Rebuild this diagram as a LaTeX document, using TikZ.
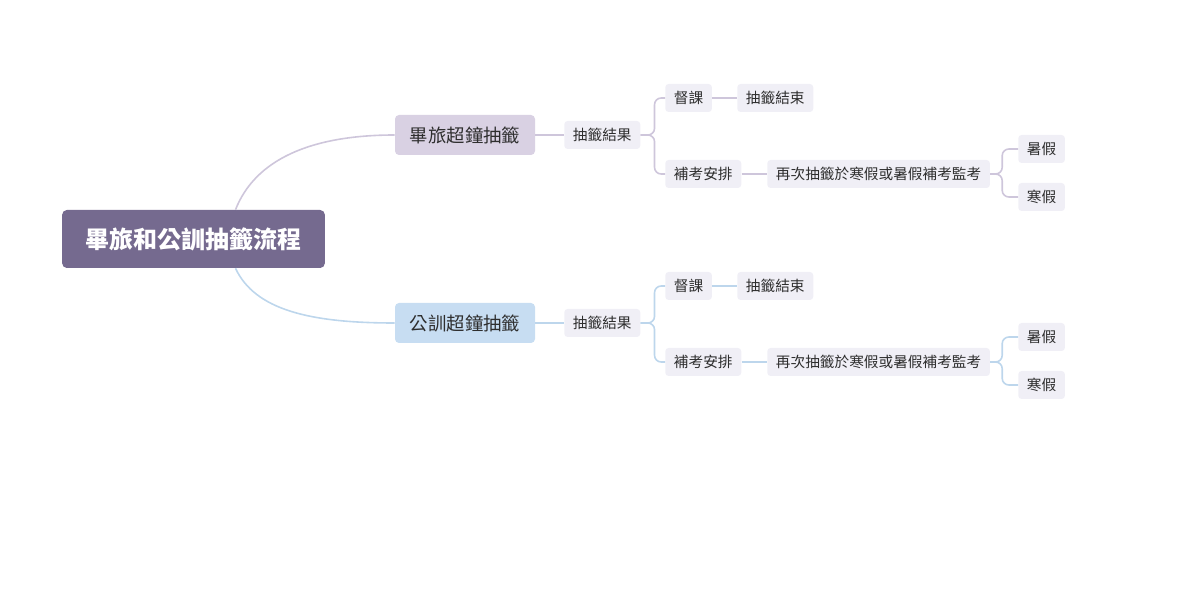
\documentclass[tikz,border=0pt]{standalone}
\usepackage{fontspec}
\setmainfont{Noto Sans CJK TC}
\definecolor{rootfill}{HTML}{756A8F}
\definecolor{purplefill}{HTML}{D9D1E3}
\definecolor{bluefill}{HTML}{C7DDF2}
\definecolor{leaffill}{HTML}{F0EFF6}
\definecolor{purpleline}{HTML}{CEC6DB}
\definecolor{blueline}{HTML}{BDD6EC}
\definecolor{inkgray}{HTML}{2E2E2E}
\tikzset{
  rootbox/.style={fill=rootfill, text=white, rounded corners=3.5pt, minimum width=197pt, minimum height=43.5pt, font=\fontsize{18}{21}\selectfont\bfseries},
  topicbox/.style={rounded corners=3pt, minimum width=105pt, minimum height=30pt, text=inkgray, font=\fontsize{13.8}{16}\selectfont},
  leafbox/.style={fill=leaffill, rounded corners=2.5pt, inner xsep=6.5pt, minimum height=21pt, text=inkgray, font=\fontsize{11}{13}\selectfont},
  link/.style={line width=1.2pt},
}
\begin{document}
\begin{tikzpicture}[x=0.75pt, y=-0.75pt]
\useasboundingbox (0,0) rectangle (1200,609);
\node[rootbox] (root) at (193.5,239) {畢旅和公訓抽籤流程};
\foreach \dy/\nm/\fc/\lc/\txt in {0/a/purplefill/purpleline/畢旅超鐘抽籤, 188/b/bluefill/blueline/公訓超鐘抽籤} {
  \node[topicbox, fill=\fc] (\nm1) at (465,135+\dy) {\txt};
  \node[leafbox, anchor=west] (\nm2) at (564,135+\dy) {抽籤結果};
  \node[leafbox, anchor=west] (\nm3) at (665,98+\dy) {督課};
  \node[leafbox, anchor=west] (\nm4) at (737,98+\dy) {抽籤結束};
  \node[leafbox, anchor=west] (\nm5) at (665,174+\dy) {補考安排};
  \node[leafbox, anchor=west] (\nm6) at (767,174+\dy) {再次抽籤於寒假或暑假補考監考};
  \node[leafbox, anchor=west] (\nm7) at (1018,149+\dy) {暑假};
  \node[leafbox, anchor=west] (\nm8) at (1018,197+\dy) {寒假};
  \draw[link, \lc] (\nm1) -- (\nm2);
  \draw[link, \lc, rounded corners=5pt] (\nm2.east) -- ++(14,0) |- (\nm3.west);
  \draw[link, \lc, rounded corners=5pt] (\nm2.east) -- ++(14,0) |- (\nm5.west);
  \draw[link, \lc] (\nm3) -- (\nm4);
  \draw[link, \lc] (\nm5) -- (\nm6);
  \draw[link, \lc, rounded corners=5pt] (\nm6.east) -- ++(12,0) |- (\nm7.west);
  \draw[link, \lc, rounded corners=5pt] (\nm6.east) -- ++(12,0) |- (\nm8.west);
}
\draw[link, purpleline] ([xshift=31.5pt]root.north) .. controls (255,160) and (310,135) .. (a1.west);
\draw[link, blueline] ([xshift=31.5pt]root.south) .. controls (255,310) and (310,323) .. (b1.west);
\end{tikzpicture}
\end{document}
